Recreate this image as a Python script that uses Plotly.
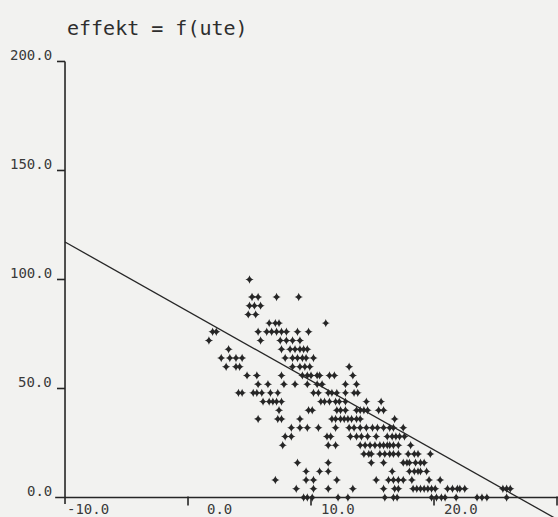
import plotly.graph_objects as go

# Output power (effekt) against outdoor temperature (ute).
# Observations are recorded on a 4-unit grid of effekt; each level lists its ute values.
effekt_levels = [100, 92, 88, 84, 80, 76, 72, 68, 64, 60, 56, 52, 48, 44,
                 40, 36, 32, 28, 24, 20, 16, 12, 8, 4, 0]

ute_at_level = [
    [5.0],
    [5.2, 5.7, 7.2, 9.0],
    [5.0, 5.4, 5.9],
    [4.9, 5.5],
    [6.6, 7.1, 7.4, 11.2],
    [2.0, 2.3, 5.7, 6.4, 6.8, 7.2, 7.6, 8.0, 8.9, 9.8],
    [1.7, 5.9, 7.5, 8.0, 8.5, 9.1],
    [3.3, 7.6, 8.3, 8.7, 9.1, 9.4, 9.7],
    [2.7, 3.4, 3.9, 4.4, 7.9, 8.5, 8.9, 9.3, 9.6, 10.2],
    [3.1, 3.9, 4.2, 8.5, 9.1, 9.5, 9.9, 13.1],
    [4.8, 5.6, 7.6, 9.3, 9.7, 10.0, 10.5, 10.7, 11.5, 11.9, 13.4],
    [5.7, 6.5, 7.8, 8.7, 9.7, 10.5, 10.9, 12.8, 13.7],
    [4.1, 4.4, 5.3, 5.6, 6.0, 6.7, 7.3, 10.2, 10.6, 11.4, 11.7, 12.1, 12.8, 13.5, 13.8],
    [6.1, 6.6, 6.9, 7.2, 7.6, 10.8, 11.1, 11.5, 12.0, 12.3, 12.8, 14.5, 15.7],
    [7.4, 9.8, 10.1, 12.1, 12.4, 12.8, 13.7, 14.0, 14.3, 14.6, 15.5, 15.9],
    [5.7, 7.3, 7.6, 9.1, 11.7, 12.0, 12.4, 12.7, 13.0, 13.3, 13.7, 14.0, 16.8],
    [8.4, 9.1, 9.7, 10.6, 12.0, 13.1, 13.5, 14.0, 14.5, 15.0, 15.4, 15.9, 16.4, 16.7, 17.5],
    [7.9, 8.4, 11.3, 11.6, 13.2, 13.7, 14.1, 14.6, 15.3, 16.2, 16.6, 16.9, 17.2, 17.6],
    [7.7, 11.4, 12.0, 14.0, 14.4, 14.8, 15.2, 15.6, 15.9, 16.2, 16.4, 16.7, 17.1, 18.1],
    [14.3, 14.7, 14.9, 15.6, 16.0, 16.4, 16.7, 17.1, 17.9, 18.4, 18.7, 19.7],
    [8.9, 11.4, 14.9, 15.9, 17.5, 17.8, 18.0, 18.5, 18.9, 19.2],
    [9.6, 10.7, 11.4, 16.6, 18.0, 18.4, 18.7, 18.9, 19.4],
    [7.1, 9.6, 10.2, 12.1, 15.3, 16.3, 16.7, 17.1, 17.5, 18.2, 19.6, 20.5],
    [8.8, 10.2, 11.4, 13.4, 15.9, 16.8, 17.1, 18.3, 18.6, 18.9, 19.2, 19.5, 19.8,
     20.1, 21.1, 21.5, 21.9, 22.1, 22.5, 25.6, 25.9, 26.2],
    [9.4, 9.7, 10.1, 12.2, 13.0, 16.0, 16.7, 17.0, 19.8, 20.2, 20.6, 20.9, 21.8,
     23.5, 23.9, 24.3, 25.9],
]

# Fitted straight line effekt = a + b * ute
fit_ute = [-10.0, 30.0]
fit_effekt = [117.2, -10.0]

x_ticks = [-10, 0, 10, 20, 30]
x_tick_text = ["-10.0", "0.0", "10.0", "20.0"]
y_ticks = [0, 50, 100, 150, 200]
y_tick_text = ["0.0", "50.0", "100.0", "150.0", "200.0"]

ute = [u for row in ute_at_level for u in row]
effekt = [lvl for lvl, row in zip(effekt_levels, ute_at_level) for _ in row]

ink = "#262626"
text_ink = "#3a3a3a"
mono = "DejaVu Sans Mono, monospace"

fig = go.Figure()

fig.add_trace(go.Scatter(
    x=fit_ute, y=fit_effekt, mode="lines",
    line=dict(color=ink, width=1.3), hoverinfo="skip", showlegend=False,
))
fig.add_trace(go.Scatter(
    x=ute, y=effekt, mode="markers",
    marker=dict(symbol="star-diamond", size=6, color=ink, line=dict(width=0)),
    hoverinfo="skip", showlegend=False, cliponaxis=False,
))

# Hand-drawn style axes: vertical axis at ute = -10, horizontal axis at effekt = 0
shapes = [
    dict(type="line", x0=-10, x1=-10, y0=-3.0, y1=200, line=dict(color=ink, width=1.6)),
    dict(type="line", x0=-10.8, x1=30.2, y0=0, y1=0, line=dict(color=ink, width=1.6)),
]
for v in y_ticks[1:]:
    shapes.append(dict(type="line", x0=-10.65, x1=-10, y0=v, y1=v,
                       line=dict(color=ink, width=1.6)))
for v in x_ticks[1:]:
    shapes.append(dict(type="line", x0=v, x1=v, y0=0.5, y1=-3.7,
                       line=dict(color=ink, width=1.6)))

annotations = []
for v, t in zip(y_ticks, y_tick_text):
    annotations.append(dict(
        x=-10.93, y=v + 3.0, text=t, showarrow=False, xanchor="right", yanchor="middle",
        font=dict(family=mono, size=14, color=text_ink),
    ))
for v, t in zip(x_ticks, x_tick_text):
    annotations.append(dict(
        x=v + 3.74, y=-5.05, text=t, showarrow=False, xanchor="right", yanchor="middle",
        font=dict(family=mono, size=14, color=text_ink),
    ))
annotations.append(dict(
    x=65.0 / 558, y=1 - 28.0 / 517, xref="paper", yref="paper",
    text="effekt = f(ute)", showarrow=False, xanchor="left", yanchor="middle",
    font=dict(family=mono, size=20, color="#2e2e2e"),
))

fig.update_layout(
    width=558, height=517,
    margin=dict(l=0, r=0, t=0, b=0),
    paper_bgcolor="#f2f2f0", plot_bgcolor="#f2f2f0",
    xaxis=dict(range=[-15.285, 30.08], visible=False, fixedrange=True),
    yaxis=dict(range=[-8.94, 228.2], visible=False, fixedrange=True),
    shapes=shapes, annotations=annotations,
)

fig.write_html("out.html")
